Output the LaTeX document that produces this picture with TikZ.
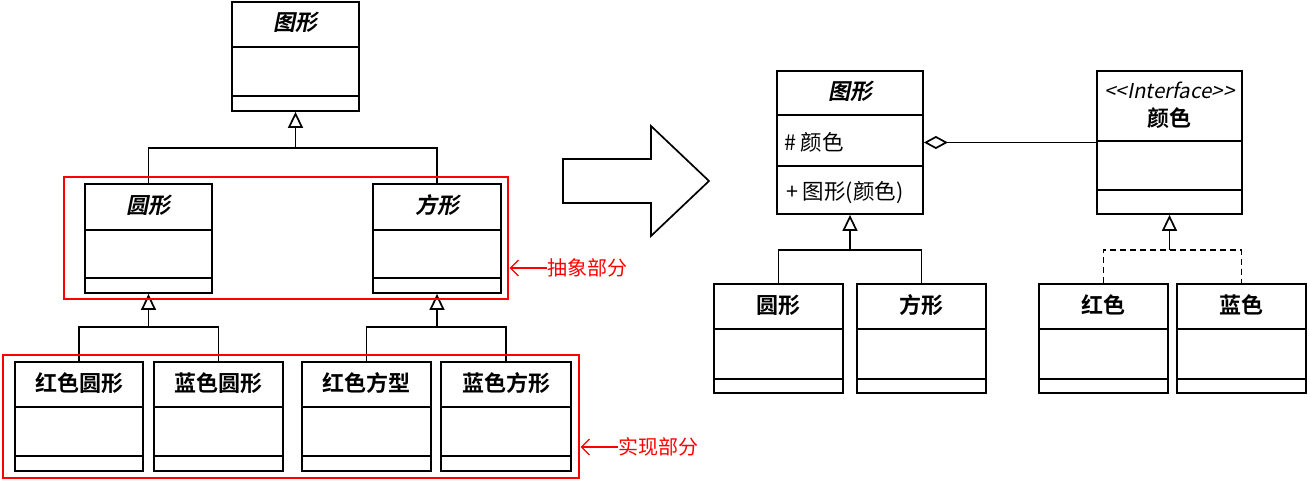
\documentclass[tikz,border=0pt]{standalone}
\usepackage{fontspec}
\setmainfont{Noto Sans CJK SC}[BoldFont={Noto Sans CJK SC Bold}, ItalicFont={Noto Sans CJK SC}, ItalicFeatures={FakeSlant=0.2}, BoldItalicFont={Noto Sans CJK SC Bold}, BoldItalicFeatures={FakeSlant=0.2}]
\usetikzlibrary{arrows.meta,fit,calc}
\tikzset{
  box/.style={draw=black, line width=1.8pt, inner sep=0pt},
  sepline/.style={line width=1.6pt},
  hdr/.style={font=\fontsize{22}{26}\selectfont\bfseries, inner sep=0pt},
  hdri/.style={font=\fontsize{22}{26}\selectfont\bfseries\itshape, inner sep=0pt},
  stereo/.style={font=\fontsize{20.5}{24}\selectfont\itshape, inner sep=0pt},
  attr/.style={font=\fontsize{21.5}{25}\selectfont, inner sep=0pt, anchor=west},
  link/.style={line width=1.7pt},
  inh/.style={line width=1.7pt, -{Triangle[open, length=16pt, width=15pt]}},
  real/.style={line width=1.7pt, dash pattern=on 6pt off 4pt},
  agg/.style={line width=1.7pt, {Diamond[open, length=24pt, width=13pt]}-},
  redbox/.style={draw=red, line width=1.4pt, inner sep=0pt},
  redlbl/.style={text=red, font=\fontsize{20}{24}\selectfont, inner sep=0pt},
  redarr/.style={draw=red, line width=1.1pt, -{Straight Barb[length=8pt, width=16pt]}, shorten >=1pt},
  bigarrow/.style={draw=black, line width=1.7pt, line join=miter}
}
\newcommand\umlbox[7]{%
  \node[box, fit={(#2,#3) (#4,#5)}] (#1) {};
  \draw[sepline] (#2,#6) -- (#4,#6);
  \draw[sepline] (#2,#7) -- (#4,#7);
}
\begin{document}
\begin{tikzpicture}[x=1pt, y=-1pt]
\useasboundingbox (0,0) rectangle (1310,482);

% ---------- left side ----------
\umlbox{fig}{232}{2}{359}{111}{47}{96}
\node[hdri] (figT) at (295.5,22) {图形};

\umlbox{circ}{85}{184}{212}{293}{230}{278}
\node[hdri] (circT) at (148.5,205) {圆形};
\umlbox{sq}{373}{184}{501}{293}{230}{278}
\node[hdri] (sqT) at (437,205) {方形};

\umlbox{rc}{15}{362}{143}{471}{407}{456}
\node[hdr] (rcT) at (79,383) {红色圆形};
\umlbox{bc}{154}{362}{283}{471}{407}{456}
\node[hdr] (bcT) at (218.5,383) {蓝色圆形};
\umlbox{rs}{302}{362}{431}{471}{407}{456}
\node[hdr] (rsT) at (366.5,383) {红色方型};
\umlbox{bs}{441}{362}{571}{471}{407}{456}
\node[hdr] (bsT) at (506,383) {蓝色方形};

% inheritance connectors
\path (fig.south) ++(0,36) coordinate (j1);
\draw[link] (circ.north) |- (j1) -| (sq.north);
\draw[inh] (j1) -- (fig.south);

\path (circ.south) ++(0,33) coordinate (j2);
\draw[link] (rc.north) |- (j2) -| (bc.north);
\draw[inh] (j2) -- (circ.south);

\path (sq.south) ++(0,33) coordinate (j3);
\draw[link] (rs.north) |- (j3) -| (bs.north);
\draw[inh] (j3) -- (sq.south);

% red groups
\node[redbox, fit={(64,177) (508,299)}] (absR) {};
\node[redlbl] (absL) at (587,268) {抽象部分};
\draw[redarr] (absL.west) -- (absL.west -| absR.east);

\node[redbox, fit={(3,355) (579,478)}] (impR) {};
\node[redlbl] (impL) at (658,447) {实现部分};
\draw[redarr] (impL.west) -- (impL.west -| impR.east);

% big arrow
\draw[bigarrow] (563,159) -- (651,159) -- (651,126) -- (709,181) -- (651,236) -- (651,203) -- (563,203) -- cycle;

% ---------- right side ----------
\umlbox{figR}{777}{71}{923}{214}{115}{166}
\node[hdri] (figRT) at (850,91) {图形};
\node[attr] (figRA) at (784,142) {\# 颜色};
\node[attr] (figRM) at (786,193) {+ 图形(颜色)};

\umlbox{iface}{1097}{71}{1242}{214}{141}{190}
\node[stereo] (ifaceS) at (1169.5,90) {{<}{<}Interface{>}{>}};
\node[hdr] (ifaceT) at (1169.5,118) {颜色};

\draw[agg] (figR.east) -- (figR.east -| iface.west);

\umlbox{circR}{714}{284}{843}{393}{329}{379}
\node[hdr] (circRT) at (778.5,305) {圆形};
\umlbox{sqR}{857}{284}{986}{393}{329}{379}
\node[hdr] (sqRT) at (921.5,305) {方形};
\umlbox{redC}{1039}{284}{1168}{393}{329}{379}
\node[hdr] (redCT) at (1103.5,305) {红色};
\umlbox{blueC}{1177}{284}{1306}{393}{329}{379}
\node[hdr] (blueCT) at (1241.5,305) {蓝色};

\path (figR.south) ++(0,35) coordinate (j4);
\draw[link] (circR.north) |- (j4) -| (sqR.north);
\draw[inh] (j4) -- (figR.south);

\path (iface.south) ++(0,35) coordinate (j5);
\draw[real] (redC.north) |- (j5) -| (blueC.north);
\draw[inh] (j5) -- (iface.south);
\end{tikzpicture}
\end{document}
